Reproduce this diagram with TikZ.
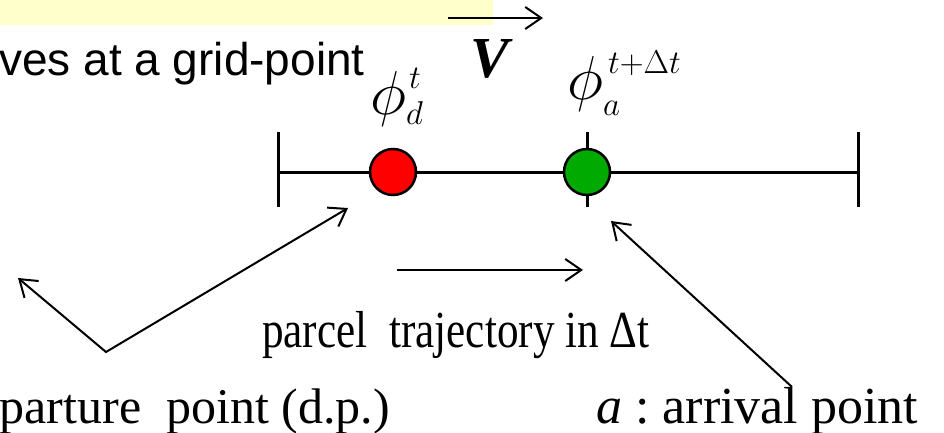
\RequirePackage{fix-cm}
\documentclass[tikz,border=0pt]{standalone}
\usepackage{fontspec}
\setmainfont{Liberation Serif}
\setsansfont{Liberation Sans}
\usetikzlibrary{arrows.meta}
\definecolor{noteYellow}{RGB}{255, 255, 204}
\definecolor{dpRed}{RGB}{255, 0, 0}
\definecolor{apGreen}{RGB}{0, 170, 0}
\newcommand{\smallmath}[1]{{\fontsize{33}{33}\selectfont$#1$}}

\begin{document}
\begin{tikzpicture}[x=1pt, y=-1pt,
    barb/.style={-{Straight Barb[length=16pt, width=22pt]}, line width=2pt},
    dblbarb/.style={{Straight Barb[length=16pt, width=22pt]}-{Straight Barb[length=16pt, width=22pt]}, line width=2pt},
    gridline/.style={line width=3pt},
    parcel/.style={circle, draw, line width=2.5pt, minimum size=46pt, inner sep=0pt},
    philab/.style={anchor=base west, inner sep=0pt, font=\fontsize{62}{64}\selectfont},
    bigtxt/.style={inner sep=0pt, font=\fontsize{50}{56}\selectfont}]
    \useasboundingbox (0,0) rectangle (944,433);
    \clip (0,0) rectangle (944,433);
    \fill[noteYellow] (0,0) rectangle (493,25);
    \node[anchor=base east, inner sep=0pt, font=\sffamily\fontsize{46}{50}\selectfont] (gridTxt) at (365,76) {ves at a grid-point};
    % velocity
    \coordinate (velTail) at (448,18);
    \coordinate (velHead) at (543,18);
    \draw[barb] (velTail) -- (velHead);
    \node[anchor=base west, inner sep=0pt, font=\fontsize{58}{60}\selectfont\bfseries\itshape] (vel) at (470,78) {V};
    % grid line
    \coordinate (lineW) at (278,172);
    \coordinate (lineE) at (858,172);
    \draw[gridline] (lineW) -- (lineE);
    \draw[gridline] (278,132) -- (278,207);
    \draw[gridline] (858,132) -- (858,207);
    \draw[gridline] (587,132) -- (587,207);
    \node[parcel, fill=dpRed] (dep) at (393,172) {};
    \node[parcel, fill=apGreen] (arr) at (587,172) {};
    \node[philab] (phiD) at (370,114) {$\phi$\rlap{\hspace{3pt}\raisebox{25pt}{\smallmath{t}}}\raisebox{-10pt}{\smallmath{d}}};
    \node[philab] (phiA) at (567,100) {$\phi$\rlap{\hspace{5pt}\raisebox{26pt}{\smallmath{t{+}\Delta t}}}\raisebox{-15pt}{\smallmath{a}}};
    % trajectory
    \coordinate (trajTail) at (397,270);
    \coordinate (trajHead) at (583,270);
    \draw[barb] (trajTail) -- (trajHead);
    \node[anchor=base west, inner sep=0pt, font=\fontsize{52}{56}\selectfont] (trajTxt) at (262,347) {\scalebox{0.83}[1]{parcel\ \ trajectory in Δt}};
    % pointers
    \coordinate (depTipL) at (18,278);
    \coordinate (depKnee) at (106,352);
    \coordinate (depTipR) at (348,208);
    \draw[dblbarb] (depTipL) -- (depKnee) -- (depTipR);
    \coordinate (arrFoot) at (792,387);
    \coordinate (arrTip) at (611,221);
    \draw[barb] (arrFoot) -- (arrTip);
    \node[bigtxt, anchor=base east] (depTxt) at (390,423) {parture\ \ point (d.p.)};
    \node[bigtxt, anchor=base west, font=\fontsize{52}{56}\selectfont] (arrTxt) at (596,423) {\textit{a} :\ arrival point};
\end{tikzpicture}
\end{document}
